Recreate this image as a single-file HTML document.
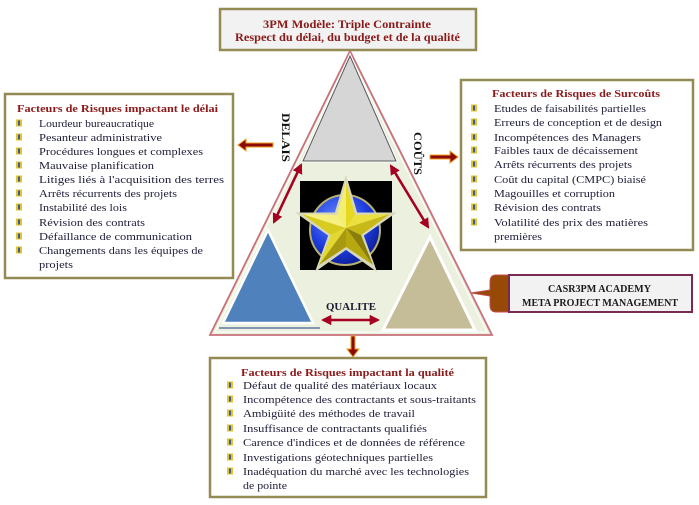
<!DOCTYPE html>
<html><head><meta charset="utf-8">
<style>
html,body{margin:0;padding:0;background:#fff;}
svg{display:block;}
text{font-family:"Liberation Serif",serif;}
.it{font-size:11px;fill:#1c1c38;}
.tt{font-size:11px;font-weight:bold;fill:#8b1a1a;}
</style></head>
<body>
<svg width="699" height="505" viewBox="0 0 699 505" xmlns="http://www.w3.org/2000/svg">
<defs>
<radialGradient id="gb" cx="0.4" cy="0.35" r="0.7">
<stop offset="0" stop-color="#6a8cff"/><stop offset="0.6" stop-color="#1f3ee0"/><stop offset="1" stop-color="#0a1a90"/>
</radialGradient>
<marker id="ah" viewBox="0 0 10 10" refX="8" refY="5" markerWidth="4" markerHeight="4" orient="auto-start-reverse">
<path d="M0,0 L10,5 L0,10 Z" fill="#a50021"/>
</marker>
<g id="bul"><rect x="0" y="-3.5" width="6" height="7" fill="#e2c52a"/><rect x="2" y="-2.5" width="2" height="5" fill="#3a5aa8"/></g>
</defs>

<!-- Big triangle -->
<polygon points="350,51 210,335 492,335" fill="#ebf1de" stroke="#c9707a" stroke-width="1.8"/>
<polygon points="350,55 215,332 487,332" fill="none" stroke="#ffffff" stroke-width="1"/>

<!-- Gray top triangle -->
<polygon points="350,56 303,161 396,161" fill="#d6d6d6" stroke="#ffffff" stroke-width="3"/>
<polygon points="350,56 303,161 396,161" fill="#d6d6d6" stroke="#5a5a5a" stroke-width="1"/>

<!-- Blue triangle -->
<line x1="219" y1="328" x2="320" y2="328" stroke="#8497b0" stroke-width="2"/>
<polygon points="268,230 223,323 313,323" fill="#4f81bd" stroke="#ffffff" stroke-width="2.5"/>

<!-- Tan triangle -->
<polygon points="430,237 383,330 475,330" fill="#c4bd97" stroke="#ffffff" stroke-width="3"/>

<!-- Black square with star -->
<rect x="300" y="181" width="92" height="89" fill="#000"/>
<circle cx="345" cy="230" r="35" fill="url(#gb)" stroke="#b8b070" stroke-width="2"/>
<g>
<polygon points="346,180 336,214 300,214 330,235 318,268 346,248 374,268 362,235 392,214 356,214" fill="#e8e8c8" stroke="#d8d8b8" stroke-width="3"/>
<polygon points="346,182 346,228 337,215" fill="#f4ee70"/>
<polygon points="346,182 346,228 355,215" fill="#e6d820"/>
<polygon points="302,214 337,215 346,228" fill="#f6f080"/>
<polygon points="302,214 331,235 346,228" fill="#d8cc20"/>
<polygon points="390,214 355,215 346,228" fill="#ece040"/>
<polygon points="390,214 361,235 346,228" fill="#c8b818"/>
<polygon points="319,265 331,235 346,228" fill="#e4d830"/>
<polygon points="319,265 346,247 346,228" fill="#a89a10"/>
<polygon points="373,265 361,235 346,228" fill="#8a7e08"/>
<polygon points="373,265 346,247 346,228" fill="#b8a810"/>
</g>

<!-- Double arrows -->
<line x1="301" y1="165" x2="274" y2="222" stroke="#a50021" stroke-width="2.6" marker-start="url(#ah)" marker-end="url(#ah)"/>
<line x1="391" y1="166" x2="428" y2="227" stroke="#a50021" stroke-width="2.6" marker-start="url(#ah)" marker-end="url(#ah)"/>
<line x1="323" y1="320" x2="378" y2="320" stroke="#a50021" stroke-width="2.6" marker-start="url(#ah)" marker-end="url(#ah)"/>

<!-- Labels -->
<text x="0" y="0" font-size="12" font-weight="bold" fill="#111" transform="translate(282,113) rotate(90)" textLength="49" lengthAdjust="spacingAndGlyphs">DELAIS</text>
<text x="0" y="0" font-size="12" font-weight="bold" fill="#111" transform="translate(414,132) rotate(90)" textLength="43" lengthAdjust="spacingAndGlyphs">COÛTS</text>
<text x="326" y="310" font-size="11" font-weight="bold" fill="#1a1a30" textLength="50" lengthAdjust="spacingAndGlyphs">QUALITE</text>

<!-- Outer orange/red arrows -->
<polygon points="238,145 246,139 246,143 273,143 273,147 246,147 246,151" fill="#8b0a0a" stroke="#f0a020" stroke-width="1"/>
<polygon points="458,157 450,151 450,155 430,155 430,159 450,159 450,163" fill="#8b0a0a" stroke="#f0a020" stroke-width="1"/>
<polygon points="353,357 347,349 351,349 351,336 355,336 355,349 359,349" fill="#8b0a0a" stroke="#f0a020" stroke-width="1"/>

<!-- Top box -->
<rect x="220" y="9" width="256" height="41" fill="#f2f2f2" stroke="#948a54" stroke-width="2.5"/>
<text x="263" y="28" font-size="12" font-weight="bold" fill="#8b1a1a" textLength="168" lengthAdjust="spacingAndGlyphs">3PM Modèle: Triple Contrainte</text>
<text x="235" y="41" font-size="12" font-weight="bold" fill="#8b1a1a" textLength="225" lengthAdjust="spacingAndGlyphs">Respect du délai, du budget et de la qualité</text>

<!-- Left box -->
<rect x="5" y="94" width="228" height="184" fill="#fff" stroke="#948a54" stroke-width="2.5"/>
<text class="tt" x="17" y="112" textLength="201" lengthAdjust="spacingAndGlyphs">Facteurs de Risques impactant le délai</text>
<use href="#bul" x="16" y="123"/><text class="it" x="39" y="127" textLength="115" lengthAdjust="spacingAndGlyphs">Lourdeur bureaucratique</text>
<use href="#bul" x="16" y="137"/><text class="it" x="39" y="141" textLength="123" lengthAdjust="spacingAndGlyphs">Pesanteur administrative</text>
<use href="#bul" x="16" y="151"/><text class="it" x="39" y="155" textLength="164" lengthAdjust="spacingAndGlyphs">Procédures longues et complexes</text>
<use href="#bul" x="16" y="165"/><text class="it" x="39" y="169" textLength="115" lengthAdjust="spacingAndGlyphs">Mauvaise planification</text>
<use href="#bul" x="16" y="179"/><text class="it" x="39" y="183" textLength="185" lengthAdjust="spacingAndGlyphs">Litiges liés à l'acquisition des terres</text>
<use href="#bul" x="16" y="193"/><text class="it" x="39" y="197" textLength="138" lengthAdjust="spacingAndGlyphs">Arrêts récurrents des projets</text>
<use href="#bul" x="16" y="207"/><text class="it" x="39" y="211" textLength="88" lengthAdjust="spacingAndGlyphs">Instabilité des lois</text>
<use href="#bul" x="16" y="222"/><text class="it" x="39" y="226" textLength="106" lengthAdjust="spacingAndGlyphs">Révision des contrats</text>
<use href="#bul" x="16" y="236"/><text class="it" x="39" y="240" textLength="153" lengthAdjust="spacingAndGlyphs">Défaillance de communication</text>
<use href="#bul" x="16" y="250"/><text class="it" x="39" y="254" textLength="164" lengthAdjust="spacingAndGlyphs">Changements dans les équipes de</text>
<text class="it" x="39" y="268" textLength="34" lengthAdjust="spacingAndGlyphs">projets</text>

<!-- Right box -->
<rect x="461" y="80" width="232" height="170" fill="#fff" stroke="#948a54" stroke-width="2.5"/>
<text class="tt" x="492" y="97" textLength="168" lengthAdjust="spacingAndGlyphs">Facteurs de Risques de Surcoûts</text>
<use href="#bul" x="471" y="108"/><text class="it" x="494" y="112" textLength="152" lengthAdjust="spacingAndGlyphs">Etudes de faisabilités partielles</text>
<use href="#bul" x="471" y="122"/><text class="it" x="494" y="126" textLength="168" lengthAdjust="spacingAndGlyphs">Erreurs de conception et de design</text>
<use href="#bul" x="471" y="137"/><text class="it" x="494" y="141" textLength="147" lengthAdjust="spacingAndGlyphs">Incompétences des Managers</text>
<use href="#bul" x="471" y="150"/><text class="it" x="494" y="154" textLength="144" lengthAdjust="spacingAndGlyphs">Faibles taux de décaissement</text>
<use href="#bul" x="471" y="164"/><text class="it" x="494" y="168" textLength="138" lengthAdjust="spacingAndGlyphs">Arrêts récurrents des projets</text>
<use href="#bul" x="471" y="179"/><text class="it" x="494" y="183" textLength="152" lengthAdjust="spacingAndGlyphs">Coût du capital (CMPC) biaisé</text>
<use href="#bul" x="471" y="193"/><text class="it" x="494" y="197" textLength="121" lengthAdjust="spacingAndGlyphs">Magouilles et corruption</text>
<use href="#bul" x="471" y="207"/><text class="it" x="494" y="211" textLength="107" lengthAdjust="spacingAndGlyphs">Révision des contrats</text>
<use href="#bul" x="471" y="222"/><text class="it" x="494" y="226" textLength="154" lengthAdjust="spacingAndGlyphs">Volatilité des prix des matières</text>
<text class="it" x="494" y="240" textLength="48" lengthAdjust="spacingAndGlyphs">premières</text>

<!-- Bottom box -->
<rect x="210" y="358" width="276" height="139" fill="#fff" stroke="#948a54" stroke-width="2.5"/>
<text class="tt" x="241" y="376" textLength="213" lengthAdjust="spacingAndGlyphs">Facteurs de Risques impactant la qualité</text>
<use href="#bul" x="227" y="385"/><text class="it" x="243" y="389" textLength="194" lengthAdjust="spacingAndGlyphs">Défaut de qualité des matériaux locaux</text>
<use href="#bul" x="227" y="399"/><text class="it" x="243" y="403" textLength="233" lengthAdjust="spacingAndGlyphs">Incompétence des contractants et sous-traitants</text>
<use href="#bul" x="227" y="413"/><text class="it" x="243" y="417" textLength="172" lengthAdjust="spacingAndGlyphs">Ambigüité des méthodes de travail</text>
<use href="#bul" x="227" y="428"/><text class="it" x="243" y="432" textLength="184" lengthAdjust="spacingAndGlyphs">Insuffisance de contractants qualifiés</text>
<use href="#bul" x="227" y="442"/><text class="it" x="243" y="446" textLength="222" lengthAdjust="spacingAndGlyphs">Carence d'indices et de données de référence</text>
<use href="#bul" x="227" y="457"/><text class="it" x="243" y="461" textLength="190" lengthAdjust="spacingAndGlyphs">Investigations géotechniques partielles</text>
<use href="#bul" x="227" y="471"/><text class="it" x="243" y="475" textLength="226" lengthAdjust="spacingAndGlyphs">Inadéquation du marché avec les technologies</text>
<text class="it" x="243" y="489" textLength="44" lengthAdjust="spacingAndGlyphs">de pointe</text>

<!-- CASR3PM callout -->
<path d="M509,275 L496,275 Q490,275 490,282 L490,290 L471,293 L490,296 L490,305 Q490,312 496,312 L509,312 Z" fill="#984807" stroke="#c0504d" stroke-width="1"/>
<rect x="509" y="275" width="183" height="37" fill="#f2f2f2" stroke="#7a2a50" stroke-width="2"/>
<text x="548" y="292" font-size="10" font-weight="bold" fill="#1a1a1a" textLength="103" lengthAdjust="spacingAndGlyphs">CASR3PM ACADEMY</text>
<text x="522" y="306" font-size="10" font-weight="bold" fill="#1a1a1a" textLength="156" lengthAdjust="spacingAndGlyphs">META PROJECT MANAGEMENT</text>
</svg>
</body></html>
